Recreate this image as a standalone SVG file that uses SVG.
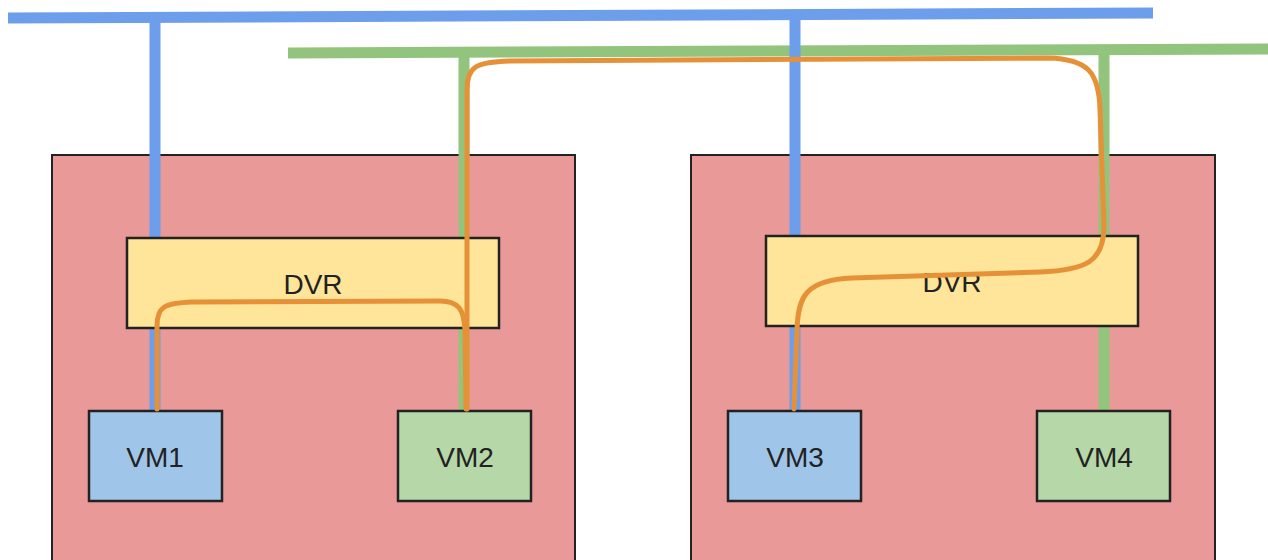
<svg xmlns="http://www.w3.org/2000/svg" width="1268" height="560" viewBox="0 0 1268 560">
<style>
.host{fill:#ea9999;stroke:#222;stroke-width:2}
.dvr{fill:#ffe599;stroke:#222;stroke-width:2.5}
.vmb{fill:#9fc5e8;stroke:#222;stroke-width:2.5}
.vmg{fill:#b6d7a8;stroke:#222;stroke-width:2.5}
.lbl{font-family:"Liberation Sans",Arial,sans-serif;font-size:28px;fill:#222;text-anchor:middle}
.blue{stroke:#6d9eeb;stroke-width:11;fill:none}
.green{stroke:#93c47d;stroke-width:11;fill:none}
.orange{stroke:#e69138;stroke-width:5;fill:none;stroke-linecap:round}
</style>
<rect width="1268" height="560" fill="#ffffff"/>
<g id="host1"><rect class="host" x="52" y="155" width="523" height="420"/></g>
<g id="host2"><rect class="host" x="691" y="155" width="524" height="420"/></g>
<g id="networks">
<line class="blue" x1="8" y1="18" x2="1153" y2="13"/>
<line class="green" x1="288" y1="53" x2="1268" y2="49"/>
<line class="blue" x1="155" y1="18" x2="155" y2="411"/>
<line class="green" x1="464" y1="53" x2="464" y2="411"/>
<line class="blue" x1="795" y1="14" x2="795" y2="411"/>
<line class="green" x1="1104" y1="50" x2="1104" y2="411"/>
</g>
<g id="dvr1"><rect class="dvr" x="127" y="238" width="372" height="90"/><text class="lbl" x="313" y="294">DVR</text></g>
<g id="dvr2"><rect class="dvr" x="766" y="236" width="372" height="90"/><text class="lbl" x="952" y="292">DVR</text></g>
<g id="vm1"><rect class="vmb" x="89" y="411" width="133" height="90"/><text class="lbl" x="155" y="467">VM1</text></g>
<g id="vm2"><rect class="vmg" x="398" y="411" width="133" height="90"/><text class="lbl" x="465" y="467">VM2</text></g>
<g id="vm3"><rect class="vmb" x="728" y="411" width="133" height="90"/><text class="lbl" x="795" y="467">VM3</text></g>
<g id="vm4"><rect class="vmg" x="1037" y="411" width="133" height="90"/><text class="lbl" x="1104" y="467">VM4</text></g>
<g id="connectors">
<path class="orange" d="M157,409 L157,326 C157,307 164,303 192,302 L440,301 C459,301 464,310 465,330 L466,409"/>
<path class="orange" d="M467,409 L467,90 C467,67 475,62 510,61 L1048,58 C1088,59 1099,72 1100,110 L1104,226 C1104,262 1086,270 1040,272 L852,278 C806,280 798,296 797,330 L794,409"/>
</g>
</svg>
